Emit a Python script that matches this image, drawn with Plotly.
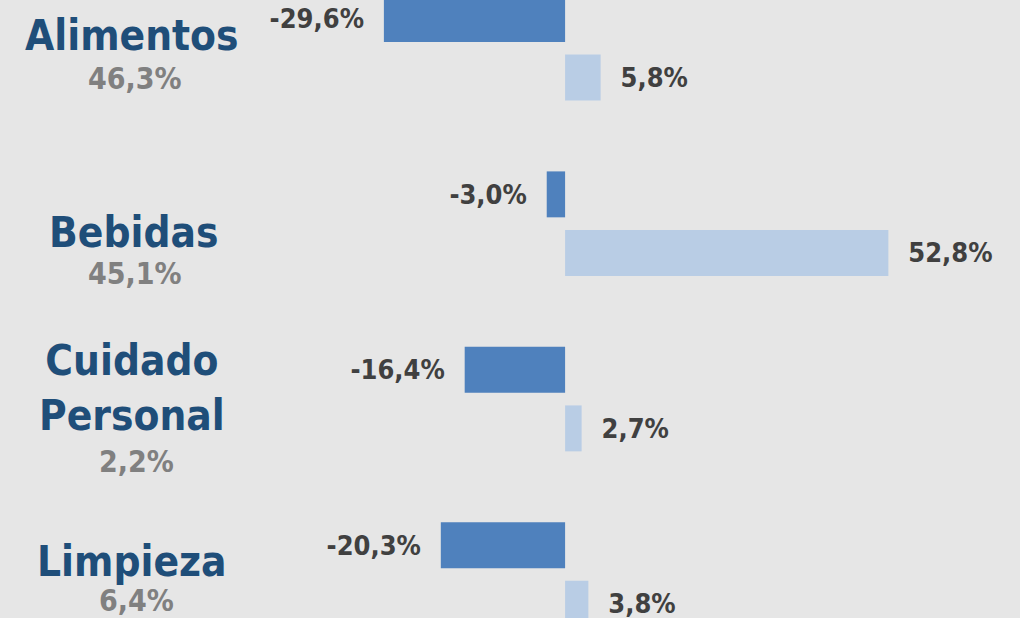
import plotly.graph_objects as go

# category names, share of total (gray) and the two bar series
categories = ["Alimentos", "Bebidas", "Cuidado<br>Personal", "Limpieza"]
shares = ["46,3%", "45,1%", "2,2%", "6,4%"]
serie_neg = [-29.6, -3.0, -16.4, -20.3]
serie_pos = [5.8, 52.8, 2.7, 3.8]

W, H = 1020, 618
BG = "#E6E6E6"
FONT = "DejaVu Sans Condensed, DejaVu Sans"
DARK = "#4F81BD"
LIGHT = "#B9CDE5"


def px(x, y):
    return x / W, 1 - y / H


fig = go.Figure()
fig.add_trace(go.Bar(
    y=categories, x=serie_neg, orientation="h",
    marker=dict(color=DARK, line=dict(width=0)),
    texttemplate="%{x:.1f}%\u00a0\u00a0", textposition="outside",
    textfont=dict(family=FONT, size=27, color="#404040", weight="bold"),
    constraintext="none", cliponaxis=False,
))
fig.add_trace(go.Bar(
    y=categories, x=serie_pos, orientation="h",
    marker=dict(color=LIGHT, line=dict(width=0)),
    texttemplate="\u00a0\u00a0%{x:.1f}%", textposition="outside",
    textfont=dict(family=FONT, size=27, color="#404040", weight="bold"),
    constraintext="none", cliponaxis=False,
))

# label positions in pixels (name centre, share centre)
name_pos = [(132, 35), (133, 232), (132, 388), (132, 561)]
share_pos = [(135, 79), (135, 273), (136, 461), (136, 600)]

for name, share, (nx, ny), (sx, sy) in zip(categories, shares, name_pos, share_pos):
    x, y = px(nx, ny)
    fig.add_annotation(x=x, y=y, xref="paper", yref="paper", text=f"<b>{name}</b>",
                       showarrow=False, xanchor="center", yanchor="middle",
                       font=dict(family=FONT, size=42, color="#1F4E79"))
    x, y = px(sx, sy)
    fig.add_annotation(x=x, y=y, xref="paper", yref="paper", text=f"<b>{share}</b>",
                       showarrow=False, xanchor="center", yanchor="middle",
                       font=dict(family=FONT, size=30, color="#808080"))

fig.update_layout(
    width=W, height=H,
    margin=dict(l=0, r=0, t=0, b=0),
    paper_bgcolor=BG, plot_bgcolor=BG,
    barmode="group", bargap=0.332, bargroupgap=0.216,
    separators=",.",
    showlegend=False,
    xaxis=dict(range=[-92.3, 74.3], visible=False, fixedrange=True),
    yaxis=dict(range=[3.248, -0.275], visible=False, type="category", fixedrange=True),
)

fig.write_html(
    "out.html",
    config={"displayModeBar": False},
    post_script="document.body.style.margin='0';document.body.style.overflow='hidden';",
)
